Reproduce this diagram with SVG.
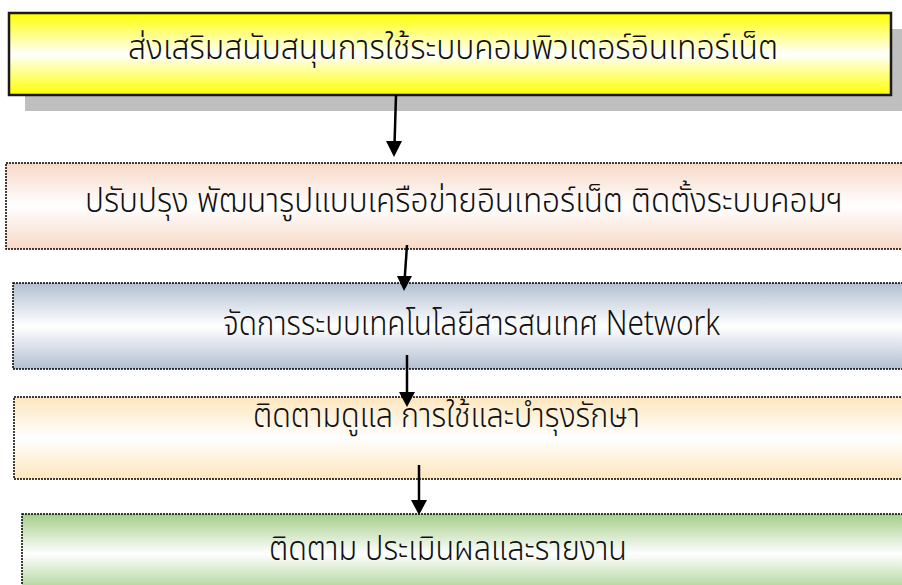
<svg xmlns="http://www.w3.org/2000/svg" width="902" height="585" viewBox="0 0 902 585">
<defs>
<linearGradient id="gYellow" x1="0" y1="0" x2="0" y2="1">
<stop offset="0" stop-color="#ffff00"/><stop offset="0.5" stop-color="#ffffff"/><stop offset="1" stop-color="#ffff00"/>
</linearGradient>
<linearGradient id="gPeach" x1="0" y1="0" x2="0" y2="1">
<stop offset="0" stop-color="#f8d8c6"/><stop offset="0.5" stop-color="#ffffff"/><stop offset="1" stop-color="#f8d8c6"/>
</linearGradient>
<linearGradient id="gBlue" x1="0" y1="0" x2="0" y2="1">
<stop offset="0" stop-color="#b2bfd2"/><stop offset="0.5" stop-color="#ffffff"/><stop offset="1" stop-color="#b2bfd2"/>
</linearGradient>
<linearGradient id="gCream" x1="0" y1="0" x2="0" y2="1">
<stop offset="0" stop-color="#fde6bd"/><stop offset="0.5" stop-color="#ffffff"/><stop offset="1" stop-color="#fde6bd"/>
</linearGradient>
<linearGradient id="gGreen" x1="0" y1="0" x2="0" y2="1">
<stop offset="0" stop-color="#a6ce8a"/><stop offset="0.5" stop-color="#ffffff"/><stop offset="1" stop-color="#a6ce8a"/>
</linearGradient>
</defs>
<style>
.lbl { font-family: "Noto Sans Thai", "Noto Sans", "DejaVu Sans", sans-serif; font-size: 34px; font-weight: 300; fill: #111; text-anchor: start; }
.dot { stroke: #000; stroke-width: 1.5; stroke-dasharray: 2 1; }
.conn { stroke: #000; stroke-width: 2.5; fill: none; }
.head { fill: #000; }
</style>
<g id="node1">
<rect x="25" y="29" width="877" height="82" fill="#bfbfbf"/>
<rect x="9" y="13" width="882" height="82" fill="url(#gYellow)" stroke="#1a1a1a" stroke-width="2.5"/>
<text class="lbl" x="128" y="59" textLength="650" lengthAdjust="spacingAndGlyphs">ส่งเสริมสนับสนุนการใช้ระบบคอมพิวเตอร์อินเทอร์เน็ต</text>
</g>
<g id="node2">
<rect x="6" y="163" width="910" height="86" fill="url(#gPeach)" class="dot"/>
<text class="lbl" x="85" y="212" textLength="758" lengthAdjust="spacingAndGlyphs">ปรับปรุง พัฒนารูปแบบเครือข่ายอินเทอร์เน็ต ติดตั้งระบบคอมฯ</text>
</g>
<g id="node3">
<rect x="13" y="283" width="903" height="86" fill="url(#gBlue)" class="dot"/>
<text class="lbl" x="223" y="335" textLength="497" lengthAdjust="spacingAndGlyphs">จัดการระบบเทคโนโลยีสารสนเทศ Network</text>
</g>
<g id="node4">
<rect x="14" y="397" width="902" height="82" fill="url(#gCream)" class="dot"/>
<text class="lbl" x="253" y="427" textLength="387" lengthAdjust="spacingAndGlyphs">ติดตามดูแล การใช้และบำรุงรักษา</text>
</g>
<g id="node5">
<rect x="22" y="514" width="894" height="80" fill="url(#gGreen)" class="dot"/>
<text class="lbl" x="269" y="560" textLength="358" lengthAdjust="spacingAndGlyphs">ติดตาม ประเมินผลและรายงาน</text>
</g>
<g id="connectors">
<line class="conn" x1="396" y1="95" x2="394.6" y2="142"/>
<path class="head" d="M386,141 L402,141 L394,157 z"/>
<line class="conn" x1="407" y1="245" x2="404.8" y2="277"/>
<path class="head" d="M397,276 L412,276 L404,291 z"/>
<line class="conn" x1="407" y1="355" x2="407" y2="393"/>
<path class="head" d="M399,392 L415,392 L407,407 z"/>
<line class="conn" x1="419" y1="465" x2="419" y2="501"/>
<path class="head" d="M411,500 L427,500 L419,515 z"/>
</g>
</svg>
